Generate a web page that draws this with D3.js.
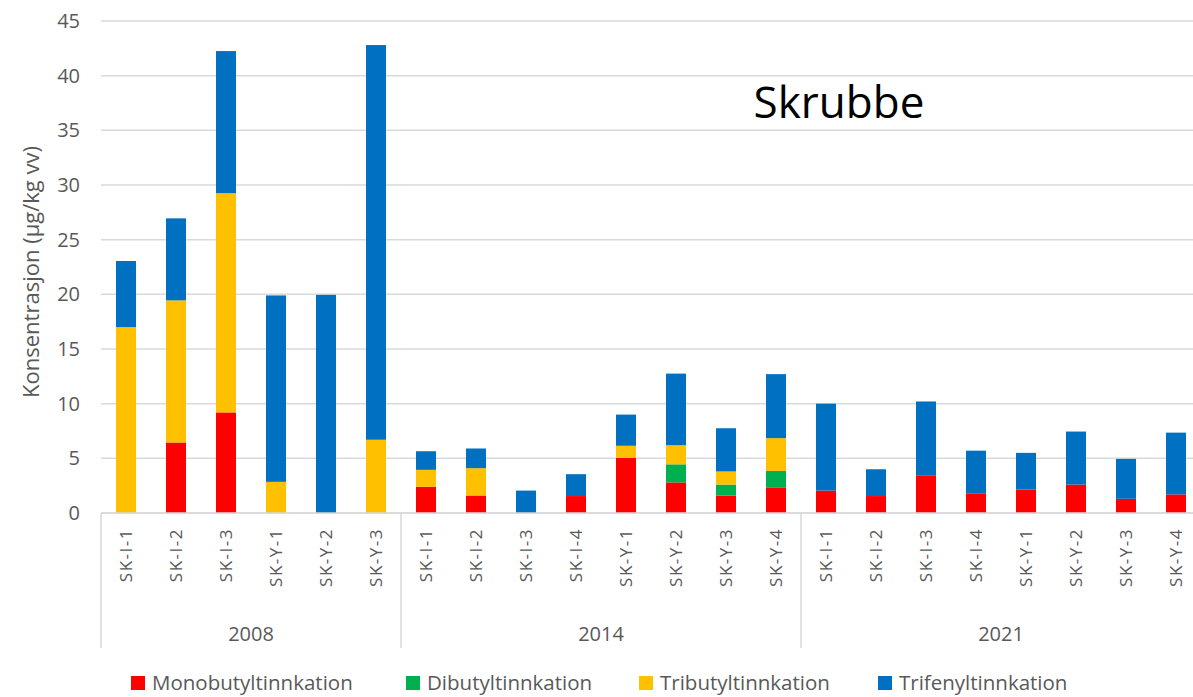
<!DOCTYPE html>
<html>
<head>
<meta charset="utf-8">
<script src="https://cdn.jsdelivr.net/npm/d3@7"></script>
<style>
  html, body { margin: 0; padding: 0; background: #fff; }
  svg { display: block; font-family: "Open Sans", "Noto Sans", sans-serif; }
</style>
</head>
<body>
<div id="chart"></div>
<script>
/* ---------------- data ---------------- */

const years = ["2008", "2014", "2021"];
const yearCounts = [6, 8, 8];

const stations = [
    "SK-I-1", "SK-I-2", "SK-I-3", "SK-Y-1", "SK-Y-2", "SK-Y-3",
    "SK-I-1", "SK-I-2", "SK-I-3", "SK-I-4", "SK-Y-1", "SK-Y-2", "SK-Y-3", "SK-Y-4",
    "SK-I-1", "SK-I-2", "SK-I-3", "SK-I-4", "SK-Y-1", "SK-Y-2", "SK-Y-3", "SK-Y-4"
];

const seriesNames = ["Monobutyltinnkation", "Dibutyltinnkation", "Tributyltinnkation", "Trifenyltinnkation"];
const seriesColors = ["#ff0000", "#00b050", "#ffc000", "#0070c0"];

const mono = [0, 6.45, 9.2, 0, 0, 0,
              2.4, 1.6, 0, 1.55, 5.05, 2.8, 1.6, 2.3,
              2.05, 1.55, 3.45, 1.8, 2.15, 2.6, 1.3, 1.7];
const di   = [0, 0, 0, 0, 0, 0,
              0, 0, 0, 0, 0, 1.65, 1.0, 1.55,
              0, 0, 0, 0, 0, 0, 0, 0];
const tri  = [17.0, 13.0, 20.05, 2.85, 0, 6.7,
              1.55, 2.5, 0, 0, 1.1, 1.75, 1.2, 3.0,
              0, 0, 0, 0, 0, 0, 0, 0];
const tfen = [6.05, 7.5, 13.0, 17.05, 19.95, 36.1,
              1.7, 1.8, 2.05, 2.0, 2.85, 6.55, 3.95, 5.85,
              7.95, 2.45, 6.75, 3.9, 3.35, 4.85, 3.65, 5.65];

const yTicks = [0, 5, 10, 15, 20, 25, 30, 35, 40, 45];

/* ---------------- layout ---------------- */

const width = 1193, height = 697;
const plotLeft = 101, plotRight = 1201, plotTop = 21, plotBottom = 513;
const textGrey = "#595959", lineGrey = "#d9d9d9";

const svg = d3.select("#chart").append("svg")
    .attr("width", width)
    .attr("height", height);

const x = d3.scaleBand()
    .domain(d3.range(stations.length))
    .range([plotLeft, plotRight])
    .paddingInner(0.6)
    .paddingOuter(0.3);

const y = d3.scaleLinear()
    .domain([0, 45])
    .range([plotBottom, plotTop]);

// gridlines
svg.append("g")
    .selectAll("line")
    .data(yTicks)
    .join("line")
    .attr("x1", plotLeft)
    .attr("x2", plotRight)
    .attr("y1", d => y(d))
    .attr("y2", d => y(d))
    .attr("stroke", lineGrey)
    .attr("stroke-width", 1.5);

// y axis labels
const yAxis = d3.axisLeft(y).tickValues(yTicks).tickSize(0).tickPadding(0);
svg.append("g")
    .attr("transform", "translate(80,0)")
    .call(yAxis)
    .call(g => g.select(".domain").remove())
    .selectAll("text")
    .attr("fill", textGrey)
    .attr("font-size", 20)
    .attr("font-family", "'Open Sans', sans-serif");

svg.append("text")
    .attr("transform", `translate(39,272) rotate(-90)`)
    .attr("text-anchor", "middle")
    .attr("fill", textGrey)
    .attr("font-size", 22)
    .text("Konsentrasjon (µg/kg vv)");

/* ---------------- stacked bars ---------------- */

const rows = stations.map((s, i) => ({ i, m: mono[i], d: di[i], t: tri[i], f: tfen[i] }));
const layers = d3.stack().keys(["m", "d", "t", "f"])(rows);

svg.append("g")
    .selectAll("g")
    .data(layers)
    .join("g")
    .attr("fill", (d, k) => seriesColors[k])
    .selectAll("rect")
    .data(d => d.filter(p => p[1] - p[0] > 0))
    .join("rect")
    .attr("x", p => x(p.data.i))
    .attr("width", x.bandwidth())
    .attr("y", p => y(p[1]))
    .attr("height", p => y(p[0]) - y(p[1]));

/* ---------------- category axis ---------------- */

svg.append("line")
    .attr("x1", plotLeft).attr("x2", plotRight)
    .attr("y1", plotBottom).attr("y2", plotBottom)
    .attr("stroke", lineGrey).attr("stroke-width", 1.5);

// station labels
svg.append("g")
    .selectAll("text")
    .data(stations)
    .join("text")
    .attr("transform", (d, i) => `translate(${x(i) + x.bandwidth() / 2 + 6},${plotBottom + 15}) rotate(-90)`)
    .attr("text-anchor", "end")
    .attr("fill", textGrey)
    .attr("font-size", 17)
    .attr("letter-spacing", 1.5)
    .text(d => d);

// group separators and year labels
const bounds = [0];
yearCounts.forEach(c => bounds.push(bounds[bounds.length - 1] + c));
const boundX = i => plotLeft + i * x.step();

svg.append("g")
    .selectAll("line")
    .data(bounds)
    .join("line")
    .attr("x1", d => boundX(d)).attr("x2", d => boundX(d))
    .attr("y1", plotBottom).attr("y2", 648)
    .attr("stroke", lineGrey).attr("stroke-width", 1.5);

svg.append("g")
    .selectAll("text")
    .data(years)
    .join("text")
    .attr("x", (d, k) => (boundX(bounds[k]) + boundX(bounds[k + 1])) / 2)
    .attr("y", 641)
    .attr("text-anchor", "middle")
    .attr("fill", textGrey)
    .attr("font-size", 20)
    .text(d => d);

/* ---------------- title ---------------- */

svg.append("text")
    .attr("x", 839)
    .attr("y", 118)
    .attr("text-anchor", "middle")
    .attr("fill", "#000")
    .attr("font-size", 44)
    .text("Skrubbe");

/* ---------------- legend ---------------- */

const legendX = [131, 406, 639, 878];
const legend = svg.append("g")
    .selectAll("g")
    .data(seriesNames)
    .join("g")
    .attr("transform", (d, k) => `translate(${legendX[k]},683)`);

legend.append("rect")
    .attr("x", 0).attr("y", -7)
    .attr("width", 14).attr("height", 14)
    .attr("fill", (d, k) => seriesColors[k]);

legend.append("text")
    .attr("x", 21)
    .attr("y", 7)
    .attr("fill", textGrey)
    .attr("font-size", 20.5)
    .text(d => d);
</script>
</body>
</html>
